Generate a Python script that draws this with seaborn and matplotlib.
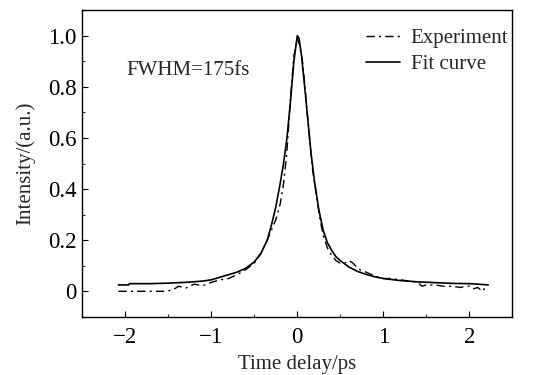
import matplotlib
matplotlib.use("Agg")
import matplotlib.pyplot as plt
import matplotlib.ticker as mticker
import pandas as pd
import seaborn as sns

exp_delay = [-2.08, -1.9, -1.7, -1.55, -1.45, -1.38, -1.3, -1.2, -1.1, -1.0,
             -0.9, -0.8, -0.7, -0.6, -0.5, -0.42, -0.35, -0.3, -0.25, -0.2,
             -0.16, -0.12, -0.08, -0.04, 0.0, 0.03, 0.06, 0.09, 0.12, 0.15,
             0.18, 0.22, 0.26, 0.3, 0.35, 0.4, 0.45, 0.5, 0.55, 0.6, 0.65,
             0.7, 0.75, 0.8, 0.9, 1.0, 1.1, 1.2, 1.3, 1.4, 1.45, 1.5, 1.6,
             1.7, 1.8, 1.9, 1.95, 2.0, 2.05, 2.1, 2.15, 2.2]
exp_intensity = [0.0, 0.0, 0.0, 0.0, 0.005, 0.02, 0.012, 0.028, 0.022, 0.035,
                 0.045, 0.05, 0.065, 0.085, 0.11, 0.15, 0.2, 0.24, 0.28, 0.34,
                 0.42, 0.55, 0.75, 0.92, 0.99, 0.96, 0.9, 0.8, 0.68, 0.57,
                 0.47, 0.38, 0.29, 0.22, 0.17, 0.14, 0.12, 0.11, 0.11, 0.12,
                 0.11, 0.09, 0.08, 0.075, 0.06, 0.05, 0.05, 0.045, 0.04,
                 0.035, 0.02, 0.025, 0.025, 0.02, 0.02, 0.015, 0.02, 0.02,
                 0.01, 0.015, 0.0, 0.02]

# Fitted curve
fit_delay = [-2.08, -1.96, -1.95, -1.7, -1.5, -1.3, -1.1, -1.0, -0.9, -0.8,
             -0.7, -0.6, -0.5, -0.42, -0.35, -0.3, -0.25, -0.2, -0.16,
             -0.12, -0.08, -0.04, 0.0, 0.02, 0.05, 0.08, 0.12, 0.16, 0.2,
             0.25, 0.3, 0.35, 0.4, 0.45, 0.5, 0.6, 0.7, 0.8, 0.9, 1.0, 1.2,
             1.4, 1.6, 1.8, 2.0, 2.1, 2.22]
fit_intensity = [0.025, 0.025, 0.03, 0.03, 0.032, 0.035, 0.04, 0.045, 0.055,
                 0.065, 0.075, 0.09, 0.115, 0.15, 0.2, 0.26, 0.33, 0.42,
                 0.5, 0.6, 0.74, 0.9, 1.0, 0.99, 0.92, 0.82, 0.68, 0.54,
                 0.43, 0.32, 0.24, 0.19, 0.16, 0.135, 0.12, 0.095, 0.078,
                 0.066, 0.057, 0.05, 0.042, 0.037, 0.034, 0.031, 0.03,
                 0.028, 0.025]

x_ticks = [-2, -1, 0, 1, 2]
x_tick_labels = ["\u22122", "\u22121", "0", "1", "2"]
y_ticks = [0, 0.2, 0.4, 0.6, 0.8, 1.0]
y_tick_labels = ["0", "0.2", "0.4", "0.6", "0.8", "1.0"]

sns.set_theme(style="ticks")
plt.rcParams["font.family"] = ["Liberation Serif", "DejaVu Serif"]

exp_df = pd.DataFrame({"delay": exp_delay, "intensity": exp_intensity})
fit_df = pd.DataFrame({"delay": fit_delay, "intensity": fit_intensity})

fig, ax = plt.subplots(figsize=(5.45, 3.75), dpi=100)
fig.subplots_adjust(left=0.151, right=0.94, top=0.973, bottom=0.155)

sns.lineplot(data=exp_df, x="delay", y="intensity", ax=ax, color="black",
             linewidth=1.0, label="Experiment", estimator=None, sort=False)
ax.lines[-1].set_dashes([6, 3, 1.5, 3])
sns.lineplot(data=fit_df, x="delay", y="intensity", ax=ax, color="black",
             linewidth=1.2, label="Fit curve", estimator=None, sort=False)

ax.set_xlim(-2.5, 2.5)
ax.set_ylim(-0.1, 1.1)
ax.set_xticks(x_ticks)
ax.set_xticklabels(x_tick_labels)
ax.set_yticks(y_ticks)
ax.set_yticklabels(y_tick_labels)
ax.xaxis.set_minor_locator(mticker.MultipleLocator(0.5))
ax.yaxis.set_minor_locator(mticker.MultipleLocator(0.1))
ax.tick_params(axis="both", which="major", direction="in", length=4,
               width=0.8, labelsize=16.5, colors="black")
ax.tick_params(axis="x", which="major", pad=7)
ax.tick_params(axis="y", which="major", pad=4)
ax.tick_params(axis="both", which="minor", direction="in", length=2.5,
               width=0.8)
for side in ax.spines.values():
    side.set_linewidth(1.0)
    side.set_color("black")

ax.set_xlabel("Time delay/ps", fontsize=15, labelpad=5.5)
ax.set_ylabel("Intensity/(a.u.)", fontsize=15, labelpad=9.5)

ax.text(-1.99, 0.862, "FWHM=175fs", fontsize=15, va="center")

ax.legend(loc="upper right", frameon=False, fontsize=15, handlelength=1.65,
          handletextpad=0.5, borderaxespad=0.0, labelspacing=0.3,
          bbox_to_anchor=(1.01, 0.967))

fig.savefig("out.png", dpi=100)
